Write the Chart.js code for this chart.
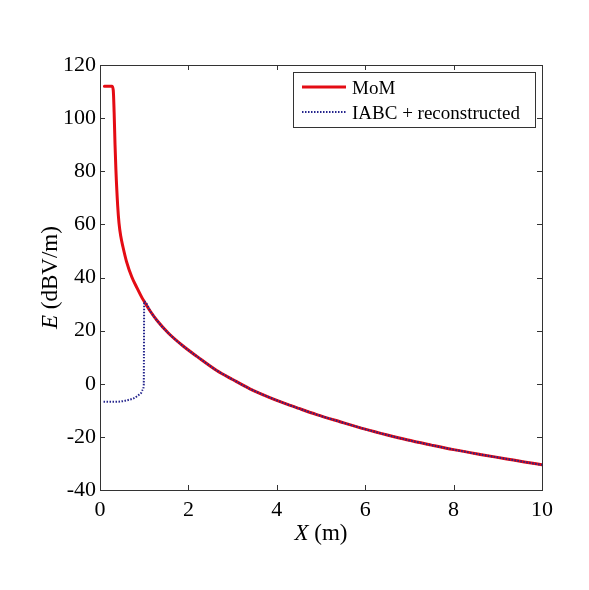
<!DOCTYPE html>
<html>
<head>
<meta charset="utf-8">
<script src="https://cdn.jsdelivr.net/npm/chart.js@4.4.0/dist/chart.umd.min.js"></script>
<style>
html, body { margin: 0; padding: 0; background: #fff; }
</style>
</head>
<body>
<canvas id="myChart" width="589" height="590"></canvas>
<script>
// values
var momX = [0.1, 0.27, 0.3, 0.32, 0.34, 0.36, 0.4, 0.43, 0.47, 0.52, 0.6, 0.72, 0.84, 0.94, 1.0,
            1.15, 1.3, 1.55, 1.88, 2.2, 2.64, 3.0, 3.39, 3.8, 4.15, 4.5, 4.9, 5.43, 6.0, 6.5,
            6.94, 7.5, 8.0, 8.6, 9.2, 9.6, 10.0];
var momY = [112, 112, 110.5, 102, 90, 80.5, 67, 60.5, 55.5, 51.5, 46, 40.2, 36, 32.7, 31.0,
            27.0, 23.6, 19.0, 14.2, 10.2, 5.0, 1.6, -1.9, -4.9, -7.2, -9.3, -11.6, -14.3, -17.1, -19.3,
            -21.1, -23.1, -24.8, -26.6, -28.3, -29.45, -30.5];

var iabcX = [0.08, 0.3, 0.5, 0.64, 0.76, 0.87, 0.93, 0.96, 0.99, 1.0,
             1.15, 1.3, 1.55, 1.88, 2.2, 2.64, 3.0, 3.39, 3.8, 4.15, 4.5, 4.9, 5.43, 6.0, 6.5,
             6.94, 7.5, 8.0, 8.6, 9.2, 9.6, 10.0];
var iabcY = [-6.8, -6.8, -6.6, -6.1, -5.5, -4.3, -3.5, -2.4, -0.5, 31.0,
             27.0, 23.6, 19.0, 14.2, 10.2, 5.0, 1.6, -1.9, -4.9, -7.2, -9.3, -11.6, -14.3, -17.1, -19.3,
             -21.1, -23.1, -24.8, -26.6, -28.3, -29.45, -30.5];

var seriesNames = ['MoM', 'IABC + reconstructed'];
var xTicks = [0, 2, 4, 6, 8, 10];
var yTicks = [-40, -20, 0, 20, 40, 60, 80, 100, 120];

var RED = 'rgb(228, 12, 20)';
var BLUE = 'rgb(36, 36, 140)';
var AXIS = '#333';
var FONT = '"Liberation Serif", "Times New Roman", serif';

const toPoints = (xs, ys) => xs.map((x, i) => ({ x: x, y: ys[i] }));

// box, inward ticks, axis titles and legend, MATLAB style
var matlabFrame = {
    id: 'matlabFrame',
    afterDraw: function (chart) {
        var ctx = chart.ctx, a = chart.chartArea;
        var xs = chart.scales.x, ys = chart.scales.y;
        ctx.save();
        ctx.strokeStyle = AXIS;
        ctx.lineWidth = 1;
        ctx.strokeRect(Math.round(a.left) + 0.5, Math.round(a.top) + 0.5,
                       Math.round(a.right - a.left), Math.round(a.bottom - a.top));
        ctx.beginPath();
        xTicks.forEach(function (v) {
            var p = Math.round(xs.getPixelForValue(v)) + 0.5;
            ctx.moveTo(p, a.bottom); ctx.lineTo(p, a.bottom - 5);
            ctx.moveTo(p, a.top); ctx.lineTo(p, a.top + 5);
        });
        yTicks.forEach(function (v) {
            var p = Math.round(ys.getPixelForValue(v)) + 0.5;
            ctx.moveTo(a.left, p); ctx.lineTo(a.left + 5, p);
            ctx.moveTo(a.right, p); ctx.lineTo(a.right - 5, p);
        });
        ctx.stroke();

        // x title: italic X then (m)
        ctx.fillStyle = '#000';
        ctx.textBaseline = 'alphabetic';
        ctx.font = 'italic 23px ' + FONT;
        var w1 = ctx.measureText('X').width;
        ctx.font = '23px ' + FONT;
        var w2 = ctx.measureText(' (m)').width;
        var cx = (a.left + a.right) / 2 - (w1 + w2) / 2;
        ctx.font = 'italic 23px ' + FONT;
        ctx.fillText('X', cx, 540);
        ctx.font = '23px ' + FONT;
        ctx.fillText(' (m)', cx + w1, 540);

        // y title, rotated
        ctx.save();
        ctx.translate(57, (a.top + a.bottom) / 2);
        ctx.rotate(-Math.PI / 2);
        ctx.font = 'italic 23px ' + FONT;
        w1 = ctx.measureText('E').width;
        ctx.font = '23px ' + FONT;
        w2 = ctx.measureText(' (dBV/m)').width;
        cx = -(w1 + w2) / 2;
        ctx.font = 'italic 23px ' + FONT;
        ctx.fillText('E', cx, 0);
        ctx.font = '23px ' + FONT;
        ctx.fillText(' (dBV/m)', cx + w1, 0);
        ctx.restore();

        // legend
        var lx = 293, ly = 72, lw = 242, lh = 55;
        ctx.fillStyle = '#fff';
        ctx.fillRect(lx, ly, lw, lh);
        ctx.strokeStyle = AXIS;
        ctx.strokeRect(lx + 0.5, ly + 0.5, lw, lh);
        ctx.lineWidth = 3;
        ctx.strokeStyle = RED;
        ctx.beginPath(); ctx.moveTo(302, 87); ctx.lineTo(346, 87); ctx.stroke();
        ctx.lineWidth = 2;
        ctx.strokeStyle = BLUE;
        ctx.setLineDash([1.5, 1.5]);
        ctx.beginPath(); ctx.moveTo(302, 112); ctx.lineTo(346, 112); ctx.stroke();
        ctx.setLineDash([]);
        ctx.fillStyle = '#000';
        ctx.font = '19px ' + FONT;
        ctx.fillText(seriesNames[0], 352, 94);
        ctx.fillText(seriesNames[1], 352, 119);
        ctx.restore();
    }
};

var ctx = document.getElementById('myChart').getContext('2d');
var myChart = new Chart(ctx, {
    type: 'line',
    data: {
        datasets: [{
                label: seriesNames[0],
                data: toPoints(momX, momY),
                borderColor: RED,
                backgroundColor: RED,
                borderWidth: 3,
                borderJoinStyle: 'round',
                borderCapStyle: 'round',
                fill: false,
                cubicInterpolationMode: 'monotone',
                pointRadius: 0,
                order: 2
            }, {
                label: seriesNames[1],
                data: toPoints(iabcX, iabcY),
                borderColor: BLUE,
                backgroundColor: BLUE,
                borderWidth: 2,
                borderDash: [1.5, 1.5],
                fill: false,
                cubicInterpolationMode: 'monotone',
                pointRadius: 0,
                order: 1
            }]
    },
    options: {
        responsive: false,
        animation: false,
        layout: { padding: { left: 0, right: 47, top: 65, bottom: 0 } },
        plugins: { legend: { display: false }, tooltip: { enabled: false } },
        scales: {
            x: {
                type: 'linear',
                min: 0, max: 10,
                afterFit: function (s) { s.height = 100; },
                afterBuildTicks: function (s) { s.ticks = xTicks.map(v => ({ value: v })); },
                grid: { display: false, drawTicks: false },
                border: { display: false },
                ticks: { color: '#000', padding: 7, maxRotation: 0, font: { family: FONT, size: 22 } }
            },
            y: {
                min: -40, max: 120,
                afterFit: function (s) { s.width = 100; },
                afterBuildTicks: function (s) { s.ticks = yTicks.map(v => ({ value: v })); },
                grid: { display: false, drawTicks: false },
                border: { display: false },
                ticks: { color: '#000', padding: 4, font: { family: FONT, size: 22 } }
            }
        }
    },
    plugins: [matlabFrame]
});
</script>
</body>
</html>
